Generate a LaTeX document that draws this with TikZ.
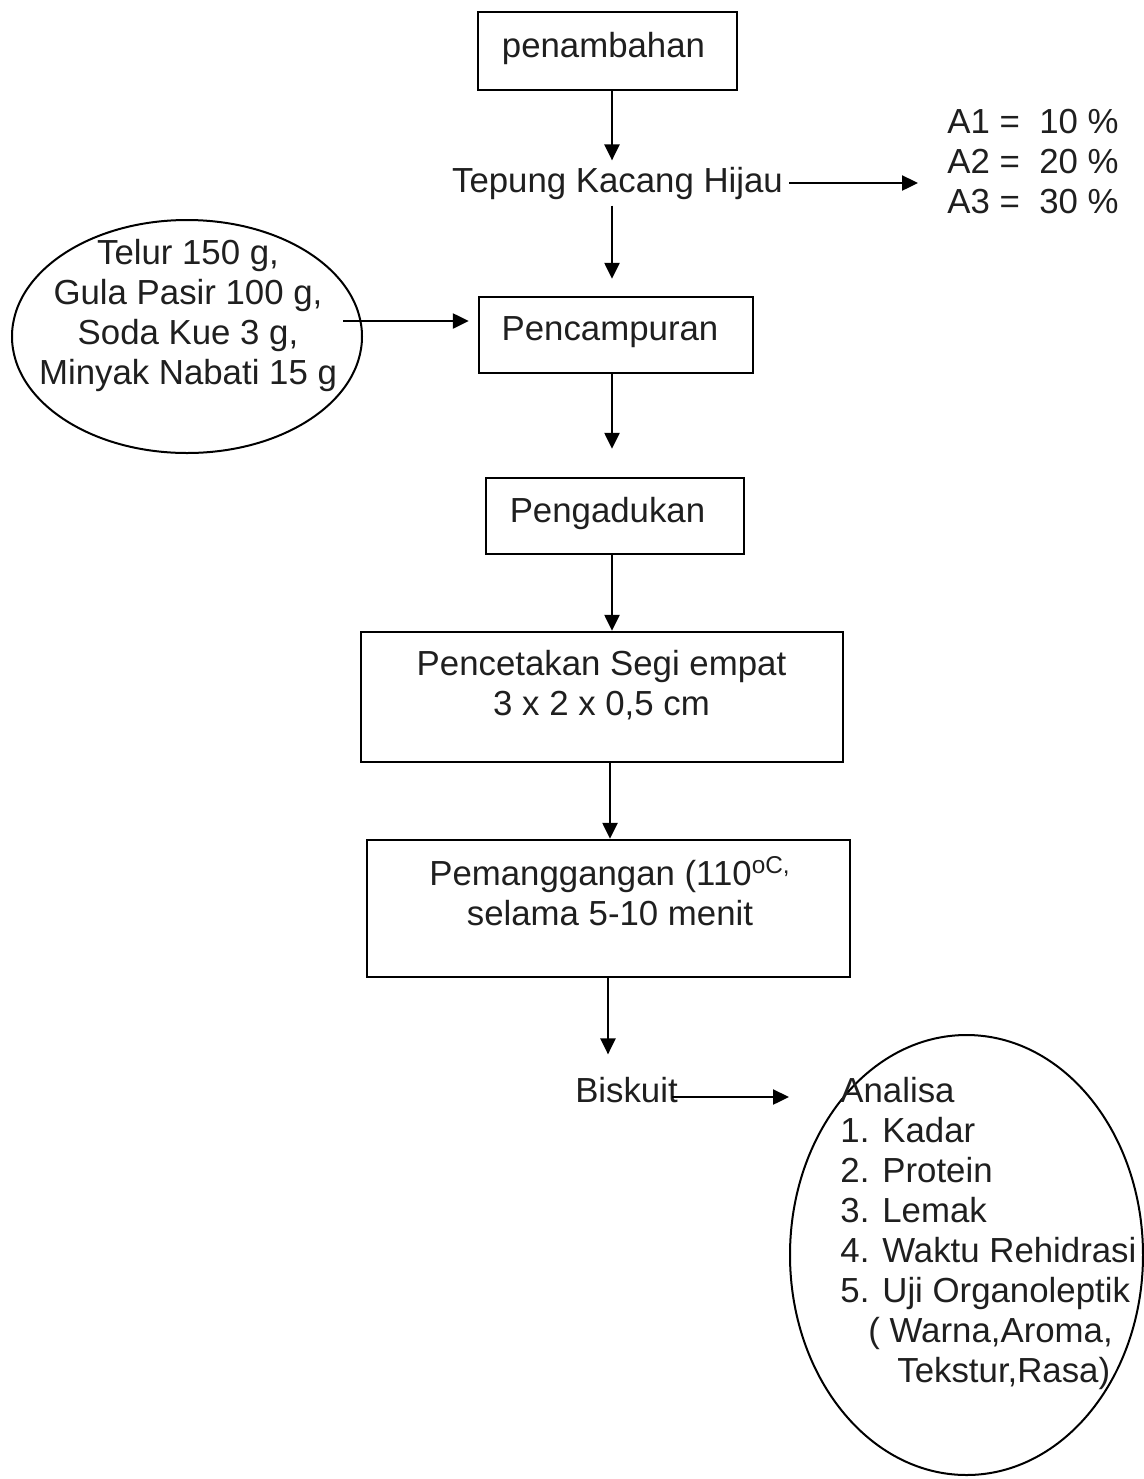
\documentclass[tikz,border=0pt]{standalone}
\usepackage{fontspec}
\setmainfont{Liberation Sans}
\usetikzlibrary{shapes.geometric,arrows.meta}
\begin{document}
\begin{tikzpicture}[x=0.5pt,y=-0.5pt,
  every node/.style={font=\fontsize{17.4}{20}\selectfont, text=black!88},
  box/.style={draw,line width=1.2pt,inner sep=0pt},
  oval/.style={draw,ellipse,line width=1pt,inner sep=0pt},
  txt/.style={inner sep=0pt},
  arr/.style={line width=1.2pt,-{Triangle[length=8pt,width=7.5pt]}}]
\useasboundingbox (0,0) rectangle (1144,1479);
% boxes
\node[box,minimum width=129.5pt,minimum height=39pt] (b1) at (607.5,51) {};
\node[txt,anchor=base] (t1) at (603.5,57) {penambahan};
\node[txt,inner sep=3pt,anchor=base] (tk) at (617.5,192) {Tepung Kacang Hijau};
\node[txt,inner sep=3pt,anchor=west,align=left] (al) at (941,162) {A1 =~~10 \%\\A2 =~~20 \%\\A3 =~~30 \%};
\node[box,minimum width=137pt,minimum height=38pt] (b2) at (616,335) {};
\node[txt,anchor=base] (t2) at (610,340) {Pencampuran};
\node[oval,minimum width=175pt,minimum height=116.5pt] (e1) at (187,336.5) {};
\node[txt,align=center] (te1) at (188,315) {Telur 150 g,\\Gula Pasir 100 g,\\Soda Kue 3 g,\\Minyak Nabati 15 g};
\node[box,minimum width=129pt,minimum height=38pt] (b3) at (615,516) {};
\node[txt,anchor=base] (t3) at (607.5,522) {Pengadukan};
\node[box,minimum width=241pt,minimum height=65pt] (b4) at (602,697) {};
\node[txt,align=center] (t4) at (601.5,685) {Pencetakan Segi empat\\3 x 2 x 0,5 cm};
\node[box,minimum width=241.5pt,minimum height=68.5pt] (b5) at (608.5,908.5) {};
\node[txt,align=center] (t5) at (610,891) {Pemanggangan (110\textsuperscript{oC,}\\selama 5-10 menit};
\node[txt,anchor=base] (bis) at (626.5,1102) {Biskuit};
\node[oval,minimum width=176.5pt,minimum height=220pt] (e2) at (966.5,1255) {};
\node[txt,align=left,anchor=west] (ta) at (840,1233) {Analisa\\
\makebox[21pt][l]{1.}Kadar\\
\makebox[21pt][l]{2.}Protein\\
\makebox[21pt][l]{3.}Lemak\\
\makebox[21pt][l]{4.}Waktu Rehidrasi\\
\makebox[21pt][l]{5.}Uji Organoleptik\\
\hspace*{14pt}( Warna,Aroma,\\
\hspace*{28.5pt}Tekstur,Rasa)};
% connectors
\coordinate (col) at (612,0);
\coordinate (col2) at (610,0);
\coordinate (col3) at (608,0);
\draw[arr] (b1.south -| col) -- (tk.north -| col);
\draw[arr,shorten >=8.5pt] (tk.south -| col) -- (b2.north -| col);
\draw[arr,shorten >=14pt] (b2.south -| col) -- (b3.north -| col);
\draw[arr] (b3.south -| col) -- (b4.north -| col);
\draw[arr] (b4.south -| col2) -- (b5.north -| col2);
\draw[arr,shorten >=11pt] (b5.south -| col3) -- (bis.north -| col3);
\draw[arr,shorten >=11.5pt] (tk.east) -- (al.west |- tk.east);
\coordinate (ein) at (343,321);
\draw[arr,shorten >=4.5pt] (ein) -- (b2.west |- ein);
\coordinate (bout) at (672,1097);
\draw[arr] (bout) -- (e2.west |- bout);
\end{tikzpicture}
\end{document}
